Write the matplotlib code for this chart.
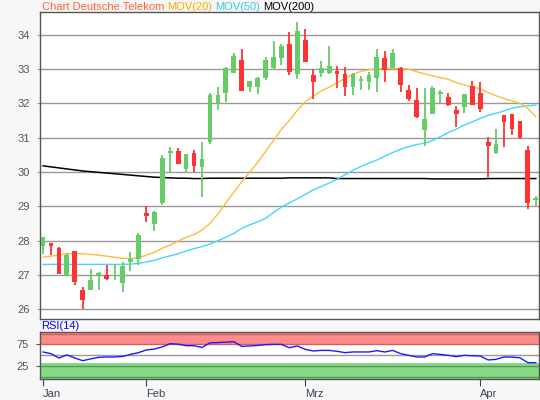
import matplotlib
matplotlib.use("Agg")
import matplotlib.pyplot as plt
import numpy as np

plt.rcParams["font.family"] = ["Liberation Sans", "DejaVu Sans"]

months = ["Jan", "Feb", "Mrz", "Apr"]
month_start = [0, 13, 33, 55]

opens = [27.85, 27.93, 27.79, 26.98, 27.70, 26.56, 26.56, 27.00, 27.00, 26.96,
         26.78, 27.39, 27.47, 28.80, 28.50, 29.10, 30.56, 30.61, 30.10, 30.55,
         30.15, 30.88, 32.00, 32.31, 32.89, 33.26, 32.49, 32.49, 32.75, 33.02,
         33.31, 33.73, 32.86, 33.85, 32.83, 32.89, 32.88, 32.94, 32.86, 32.49,
         32.66, 32.63, 32.73, 33.33, 33.02, 33.02, 32.39, 32.10, 31.22, 31.70,
         32.27, 32.19, 31.80, 31.90, 32.51, 32.31, 30.88, 30.55, 31.66, 31.69,
         31.49, 30.64, 29.18]
highs = [28.11, 27.93, 27.82, 27.63, 27.70, 26.65, 27.18, 27.10, 27.29, 27.33,
         27.38, 27.68, 28.22, 29.01, 28.86, 30.50, 30.73, 30.70, 30.53, 30.63,
         30.87, 32.30, 32.48, 33.07, 33.48, 33.59, 32.66, 32.78, 33.35, 33.82,
         33.72, 34.09, 34.38, 34.17, 33.00, 33.23, 33.67, 33.10, 33.05, 32.88,
         32.80, 32.92, 33.57, 33.53, 33.59, 33.07, 32.53, 32.46, 32.44, 32.51,
         32.39, 32.30, 31.92, 32.28, 32.65, 32.62, 31.01, 31.24, 31.67, 31.70,
         31.49, 30.77, 29.30]
lows = [27.61, 27.58, 27.03, 26.98, 26.70, 26.00, 26.56, 26.57, 26.85, 26.86,
        26.51, 27.13, 27.28, 28.55, 28.28, 29.04, 30.01, 30.24, 30.01, 30.00,
        29.28, 30.81, 31.82, 32.05, 32.89, 32.37, 32.34, 32.27, 32.68, 32.97,
        33.12, 32.83, 32.71, 33.21, 32.13, 32.78, 32.85, 32.44, 32.22, 32.24,
        32.39, 32.39, 32.32, 32.63, 33.02, 32.34, 32.07, 31.56, 30.76, 31.70,
        32.00, 31.92, 31.32, 31.73, 31.96, 31.76, 29.86, 30.53, 30.74, 31.08,
        31.00, 28.91, 29.01]
closes = [28.11, 27.85, 27.04, 27.58, 26.81, 26.28, 26.86, 27.06, 26.89, 27.00,
          27.25, 27.48, 28.17, 28.73, 28.84, 30.41, 30.61, 30.24, 30.52, 30.18,
          30.38, 32.24, 32.24, 33.02, 33.38, 32.37, 32.65, 32.75, 33.26, 33.35,
          33.67, 32.92, 34.12, 33.21, 32.63, 33.02, 33.09, 32.86, 32.49, 32.85,
          32.71, 32.83, 33.35, 32.97, 33.47, 32.53, 32.13, 31.61, 31.54, 32.45,
          32.34, 31.95, 31.70, 32.27, 31.96, 31.84, 30.77, 30.82, 31.47, 31.24,
          31.00, 29.11, 29.25]

mov20 = [27.52, 27.55, 27.58, 27.62, 27.63, 27.62, 27.60, 27.58, 27.55, 27.52,
         27.49, 27.48, 27.50, 27.58, 27.66, 27.78, 27.87, 27.99, 28.10, 28.18,
         28.31, 28.50, 28.78, 29.10, 29.41, 29.72, 30.00, 30.28, 30.60, 30.92,
         31.25, 31.50, 31.80, 32.05, 32.21, 32.36, 32.47, 32.60, 32.73, 32.85,
         32.93, 32.98, 33.01, 33.02, 33.02, 33.02, 33.00, 32.92, 32.86, 32.80,
         32.75, 32.70, 32.60, 32.54, 32.48, 32.42, 32.32, 32.22, 32.14, 32.07,
         32.00, 31.85, 31.61]
mov50 = [27.31, 27.31, 27.31, 27.31, 27.31, 27.31, 27.31, 27.31, 27.31, 27.31,
         27.31, 27.32, 27.34, 27.38, 27.43, 27.50, 27.56, 27.62, 27.70, 27.77,
         27.83, 27.90, 28.00, 28.10, 28.21, 28.36, 28.46, 28.55, 28.65, 28.82,
         28.98, 29.10, 29.22, 29.35, 29.48, 29.58, 29.68, 29.79, 29.92, 30.05,
         30.16, 30.26, 30.35, 30.46, 30.57, 30.66, 30.74, 30.80, 30.84, 30.92,
         31.03, 31.15, 31.25, 31.37, 31.46, 31.56, 31.65, 31.71, 31.78, 31.86,
         31.90, 31.93, 31.95]
mov200 = [30.18, 30.15, 30.12, 30.09, 30.06, 30.03, 30.01, 29.99, 29.97, 29.95,
          29.93, 29.91, 29.89, 29.87, 29.85, 29.84, 29.83, 29.82, 29.82, 29.81,
          29.81, 29.82, 29.82, 29.82, 29.82, 29.82, 29.82, 29.82, 29.82, 29.82,
          29.82, 29.83, 29.83, 29.83, 29.83, 29.83, 29.83, 29.81, 29.81, 29.81,
          29.81, 29.81, 29.81, 29.81, 29.81, 29.81, 29.81, 29.81, 29.81, 29.80,
          29.80, 29.80, 29.80, 29.80, 29.80, 29.80, 29.81, 29.81, 29.81, 29.81,
          29.81, 29.81, 29.81]
rsi14 = [56.5, 52.7, 43.0, 50.0, 43.0, 37.0, 41.0, 44.5, 45.3, 45.3,
         46.5, 51.0, 55.0, 61.0, 63.0, 68.0, 75.0, 74.0, 70.6, 70.5,
         66.5, 77.0, 77.5, 78.5, 79.5, 69.0, 70.0, 71.0, 73.0, 73.5,
         73.5, 66.0, 70.0, 62.3, 58.7, 60.0, 60.0, 58.0, 55.0, 56.5,
         56.5, 56.5, 59.5, 56.5, 60.0, 52.7, 49.0, 45.3, 45.3, 52.7,
         51.0, 49.0, 46.0, 49.0, 48.0, 47.5, 38.6, 40.0, 45.3, 45.0,
         43.5, 32.6, 32.6]

GREEN = "#66cc66"
RED = "#ff3333"
GRID = "#999999"
FRAME = "#555555"

fig = plt.figure(figsize=(5.4, 4.0), dpi=100, facecolor="#f7f7f7")
ax = fig.add_axes([40 / 540, 81 / 400, 499 / 540, 307 / 400])
rax = fig.add_axes([40 / 540, 21 / 400, 499 / 540, 47 / 400])

x = np.arange(len(opens))
o = np.array(opens)
c = np.array(closes)
up = c >= o
colors = [GREEN if u else RED for u in up]

# candles
ax.vlines(x, lows, highs, colors=colors, linewidth=1.3, zorder=3)
body_lo = np.minimum(o, c)
body_h = np.maximum(np.abs(c - o), 0.05)
ax.bar(x, body_h, bottom=body_lo, width=0.6, color=colors, linewidth=0, zorder=4)

# moving averages
ax.plot(x, mov200, color="black", lw=1.1, zorder=2)
ax.plot(x, mov50, color="#3dd8ff", lw=1.0, zorder=2)
ax.plot(x, mov20, color="#ffbb3a", lw=1.0, zorder=2)

ax.set_xlim(-0.38, 62.4)
ax.set_ylim(25.72, 34.66)
ax.set_yticks(range(26, 35))
ax.yaxis.grid(True, color=GRID, lw=1)
ax.set_axisbelow(True)
ax.set_xticks([])
ax.tick_params(axis="y", length=2, pad=5, labelsize=8, labelcolor="#555555", color=GRID)
for s in ax.spines.values():
    s.set_color(FRAME)
    s.set_linewidth(1)

# RSI panel
rax.axhspan(75, 101.2, color="#ff8a8a", lw=0, zorder=0)
rax.axhspan(-4, 32.5, color="#88d888", lw=0, zorder=0)
for lv in (75, 97.4):
    rax.axhline(lv, color="#d06060", lw=1, zorder=1)
for lv in (24, 0.4):
    rax.axhline(lv, color="#4f9f4f", lw=1, zorder=1)
rax.axhline(50, color=GRID, lw=1, zorder=1)
rax.plot(x, rsi14, color="#1a1aff", lw=1, zorder=3)
rax.set_xlim(-0.38, 62.4)
rax.set_ylim(-4, 101.2)
rax.set_yticks([25, 75])
rax.tick_params(axis="y", length=3, pad=5, labelsize=8, labelcolor="#555555", color=FRAME)
rax.set_xticks(month_start)
rax.set_xticklabels(months, ha="left")
rax.tick_params(axis="x", length=5, pad=2, labelsize=8, labelcolor="#334455", color="#334455")
for s in rax.spines.values():
    s.set_color(FRAME)
    s.set_linewidth(1)
rax.text(0.003, 1.02, "RSI(14)", color="#0000ff", fontsize=8, transform=rax.transAxes,
         ha="left", va="bottom")

# title parts
parts = [("Chart Deutsche Telekom", "#ff6633"), ("MOV(20)", "#ffaa00"),
         ("MOV(50)", "#33ccee"), ("MOV(200)", "black")]
fig.canvas.draw()
r = fig.canvas.get_renderer()
xp = 41.5 / 540
for txt, col in parts:
    t = fig.text(xp, 1 - 7 / 400, txt, color=col, fontsize=8, va="center", ha="left")
    bb = t.get_window_extent(renderer=r)
    xp += (bb.width + 3) / 540

fig.savefig("out.png", dpi=100, facecolor=fig.get_facecolor())
